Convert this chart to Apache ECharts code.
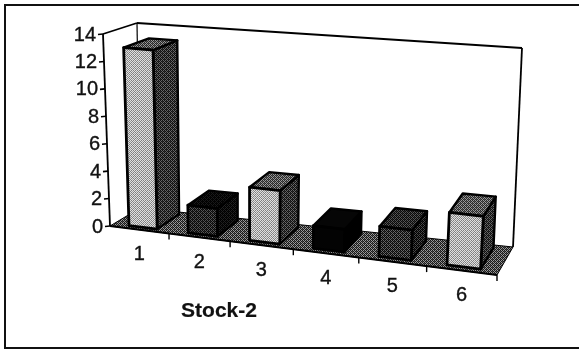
<!DOCTYPE html>
<html><head><meta charset="utf-8">
<style>html,body{margin:0;padding:0;background:#fff}#c{width:579px;height:351px}</style>
<script src="https://cdn.jsdelivr.net/npm/echarts@6/dist/echarts.min.js"></script>
</head><body><div id="c"></div>
<script>
const categories = ['1','2','3','4','5','6'];
const stockValues = [13, 2, 3.8, 1.6, 2.1, 3.6];
const yTickValues = [0,2,4,6,8,10,12,14];
const axisTitle = 'Stock-2';
const faceTone = ['light','dark','light','black','mid','light'];

const FONT = '"Liberation Sans", Arial, sans-serif';
const GL=110, GW=387, GT=34, GB=226, GH=192;
const C = {fbl:[110,226],fbr:[497,275],bbl:[140,208],bbr:[513,247],
           ftl:[103,34],ftr:[509,68],btl:[137,23],btr:[522,48]};
const persp = 0.9;
function lerp(a,b,t){return [a[0]+(b[0]-a[0])*t,a[1]+(b[1]-a[1])*t];}
function proj(u,h,d){
  const t=u*persp/(1-u+u*persp);
  const fb=lerp(C.fbl,C.fbr,t),bb=lerp(C.bbl,C.bbr,t),ft=lerp(C.ftl,C.ftr,t),bt=lerp(C.btl,C.btr,t);
  return lerp(lerp(fb,bb,d),lerp(ft,bt,d),h);
}
function unproj(p){return [(p[0]-GL)/GW,(GB-p[1])/GH];}
function pat(a,b,c){
  const cv=document.createElement('canvas');cv.width=cv.height=4;
  const x=cv.getContext('2d');
  const m=[[a,b,a,b],[b,a,c,a],[a,b,a,b],[c,a,b,a]];
  m.forEach((r,j)=>r.forEach((v,i)=>{x.fillStyle=v;x.fillRect(i,j,1,1);}));
  return {image:cv,repeat:'repeat'};
}
const fills={
  light:{front:pat('#e0e0e0','#808080','#a0a0a0'),side:pat('#111111','#666666','#2a2a2a'),top:pat('#2a2a2a','#999999','#555555')},
  dark:{front:pat('#0a0a0a','#555555','#222222'),side:pat('#000000','#222222','#0a0a0a'),top:pat('#000000','#1a1a1a','#050505')},
  mid:{front:pat('#0a0a0a','#666666','#2a2a2a'),side:pat('#000000','#4a4a4a','#1a1a1a'),top:pat('#0a0a0a','#555555','#2a2a2a')},
  black:{front:'#030303',side:'#000000',top:'#060606'}
};
const floorFill=pat('#1a1a1a','#999999','#4a4a4a');

function poly(pts,fill,lw){return {type:'polygon',shape:{points:pts},style:{fill:fill,stroke:'#000',lineWidth:lw,lineJoin:'round'}};}
function line(a,b,lw){return {type:'line',shape:{x1:a[0],y1:a[1],x2:b[0],y2:b[1]},style:{stroke:'#000',lineWidth:lw}};}
function txt(s,x,y,al,size,bold){return {type:'text',style:{text:s,x:x,y:y,align:al,verticalAlign:'middle',fontFamily:FONT,fontSize:size,fontWeight:bold?'bold':'normal',fill:'#111',stroke:'#111',lineWidth:bold?0.2:0.35}};}

const d0=0.13,d1=0.9,barFrac=0.48;
function renderBar(params,api){
  const i=api.value(0),v=api.value(1);
  const c=api.coord([i,v]),s=api.size([1,0])[0];
  const q=unproj(c);
  const bw=s/GW;
  const u0=q[0]-bw*barFrac/2,u1=q[0]+bw*barFrac/2,h=q[1];
  const f=fills[faceTone[i]];
  return {type:'group',children:[
    poly([proj(u1,0,d0),proj(u1,0,d1),proj(u1,h,d1),proj(u1,h,d0)],f.side,2.4),
    poly([proj(u0,h,d0),proj(u1,h,d0),proj(u1,h,d1),proj(u0,h,d1)],f.top,2.4),
    poly([proj(u0,0,d0),proj(u1,0,d0),proj(u1,h,d0),proj(u0,h,d0)],f.front,2.8)
  ]};
}
function renderWalls(params,api){
  const ch=[];
  ch.push(poly([C.fbl,C.fbr,C.bbr,C.bbl],floorFill,1));
  ch.push(line(C.ftl,C.fbl,1.8),line(C.ftl,C.btl,1.8),line(C.btl,C.bbl,1.2),
          line(C.btl,C.btr,1.8),line(C.btr,C.bbr,1.8));
  yTickValues.forEach(v=>{
    const h=unproj(api.coord([0,v]))[1];
    const p=proj(0,h,0);
    ch.push(line(p,[p[0]-5,p[1]+0.5],1.6));
    ch.push(txt(String(v),p[0]-7,p[1]+1,'right',20,false));
  });
  categories.forEach((c,i)=>{
    const s=api.size([1,0])[0]/GW;
    const u=unproj(api.coord([i,0]))[0];
    const e=proj(u+s/2,0,0);
    ch.push(line(e,[e[0],e[1]+6],1.4));
    const m=proj(u,0,0);
    ch.push(txt(c,m[0],m[1]+25,'center',20,false));
  });
  ch.push(line(C.fbl,C.fbr,1.8));
  ch.push(txt(axisTitle,219,311,'center',21,true));
  return {type:'group',children:ch};
}
const chart=echarts.init(document.getElementById('c'),null,{renderer:'canvas'});
chart.setOption({
  animation:false,
  backgroundColor:'#fff',
  grid:{left:GL,top:GT,width:GW,height:GH},
  xAxis:{type:'category',data:categories,show:false},
  yAxis:{type:'value',min:0,max:14,interval:2,show:false},
  graphic:[
    {type:'line',shape:{x1:5,y1:5,x2:579,y2:5},style:{stroke:'#111',lineWidth:2}},
    {type:'line',shape:{x1:5,y1:4,x2:5,y2:349},style:{stroke:'#111',lineWidth:2}},
    {type:'line',shape:{x1:5,y1:348,x2:579,y2:348},style:{stroke:'#111',lineWidth:2}}
  ],
  series:[
    {type:'custom',z:2,silent:true,clip:false,data:[[0,0]],renderItem:renderWalls},
    {type:'custom',z:3,silent:true,clip:false,data:stockValues.map((v,i)=>[i,v]),renderItem:renderBar,encode:{x:0,y:1}}
  ]
});
</script></body></html>
